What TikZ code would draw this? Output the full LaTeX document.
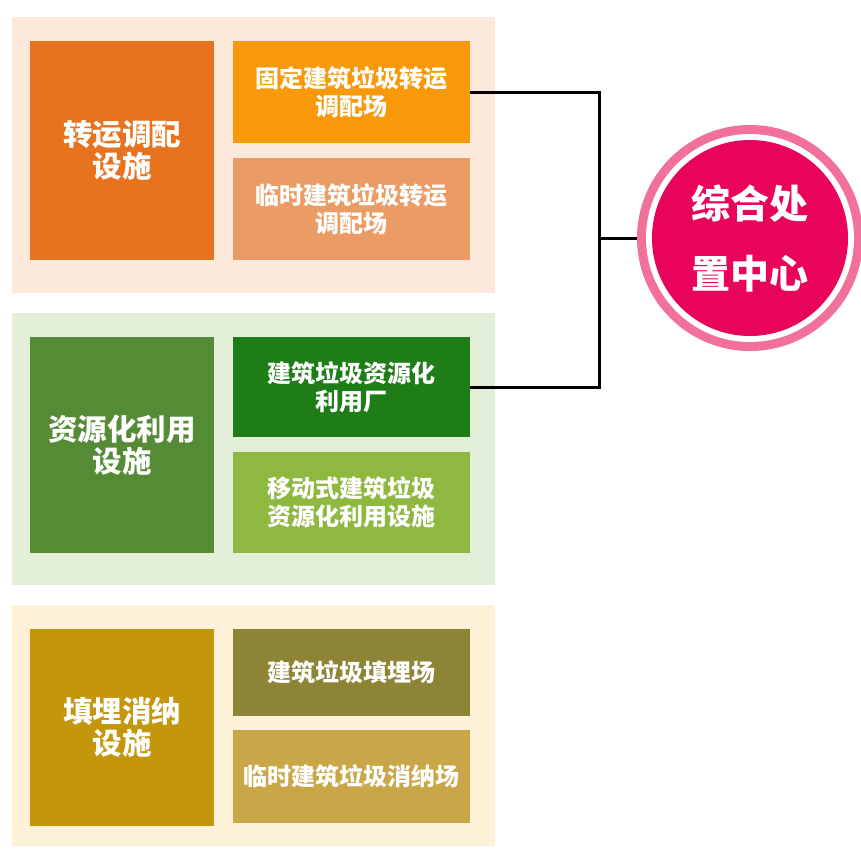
\documentclass[tikz,border=0pt]{standalone}
\usepackage{fontspec}
\setmainfont{Noto Sans CJK SC}
\definecolor{bgA}{HTML}{FCE9DB}
\definecolor{bigA}{HTML}{E8731E}
\definecolor{topA}{HTML}{F7990B}
\definecolor{botA}{HTML}{EB9B64}
\definecolor{bgB}{HTML}{E4EFDA}
\definecolor{bigB}{HTML}{568B36}
\definecolor{topB}{HTML}{1F7D18}
\definecolor{botB}{HTML}{8EB83F}
\definecolor{bgC}{HTML}{FDF2D7}
\definecolor{bigC}{HTML}{C4960B}
\definecolor{topC}{HTML}{8D8535}
\definecolor{botC}{HTML}{C9A647}
\definecolor{ringout}{HTML}{F2719A}
\definecolor{ringin}{HTML}{E8045A}
\tikzset{
  grp/.style={fill=#1, draw=none},
  bigbox/.style={rectangle, fill=#1, draw=none, inner sep=0pt, minimum width=184pt, minimum height=219pt, text=white, align=center, font=\fontsize{29.5}{32}\selectfont\bfseries},
  subbox/.style={rectangle, fill=#1, draw=none, inner sep=0pt, minimum width=237pt, minimum height=102pt, text=white, align=center, font=\fontsize{24}{28}\selectfont\bfseries},
  link/.style={draw=black, line width=3pt},
}
\begin{document}
\begin{tikzpicture}[x=1pt,y=-1pt]
\fill[white] (0,0) rectangle (861,849);
\useasboundingbox (0,0) rectangle (861,849);
% group backgrounds
\fill[grp=bgA] (12,17) rectangle (495,293);
\fill[grp=bgB] (12,313) rectangle (495,585);
\fill[grp=bgC] (12,605) rectangle (495,846);
% group A
\node[bigbox=bigA] (a0) at (122,150.5) {转运调配\\设施};
\node[subbox=topA] (a1) at (351.5,92) {固定建筑垃圾转运\\调配场};
\node[subbox=botA] (a2) at (351.5,209) {临时建筑垃圾转运\\调配场};
% group B
\node[bigbox=bigB, minimum height=216pt] (b0) at (122,445) {资源化利用\\设施};
\node[subbox=topB, minimum height=100pt] (b1) at (351.5,387) {建筑垃圾资源化\\利用厂};
\node[subbox=botB, minimum height=101pt] (b2) at (351.5,502.5) {移动式建筑垃圾\\资源化利用设施};
% group C
\node[bigbox=bigC, minimum height=197pt] (c0) at (122,727.5) {填埋消纳\\设施};
\node[subbox=topC, minimum height=87pt] (c1) at (351.5,672.5) {建筑垃圾填埋场};
\node[subbox=botC, minimum height=93pt] (c2) at (351.5,776.5) {临时建筑垃圾消纳场};
% centre circle
\node[circle, fill=ringout, draw=none, minimum size=226pt, inner sep=0pt] (hub) at (750,238) {};
\node[circle, fill=white, draw=none, minimum size=208pt, inner sep=0pt] (hubw) at (hub.center) {};
\node[circle, fill=ringin, draw=none, minimum size=196pt, inner sep=0pt, text=white, align=center,
      font=\fontsize{39}{70}\selectfont\bfseries] (hubi) at (hub.center) {综合处\\置中心};
% connectors
\coordinate (j) at (599,238);
\draw[link] (a1.east) -| (j) |- (b1.east);
\draw[link] (j) -- (hub.west);
\end{tikzpicture}
\end{document}
